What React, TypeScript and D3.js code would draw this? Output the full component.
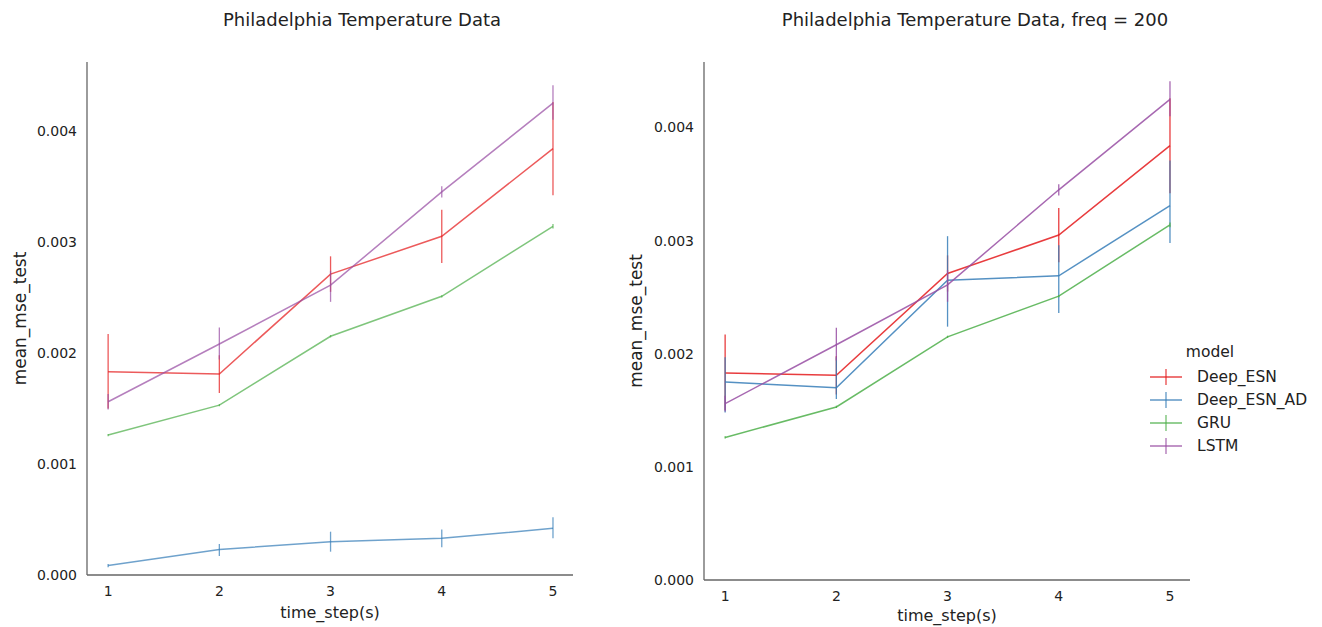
import React from 'react';
import * as d3 from 'd3';

// values in units of 1e-3
const timeSteps = [1, 2, 3, 4, 5];
const models = ['Deep_ESN', 'Deep_ESN_AD', 'GRU', 'LSTM'];
const modelColors = ['#e41a1c', '#377eb8', '#4daf4a', '#984ea3'];

const deepEsnMean = [1.83, 1.81, 2.71, 3.05, 3.84];
const deepEsnLow = [1.5, 1.64, 2.55, 2.81, 3.42];
const deepEsnHigh = [2.17, 1.98, 2.87, 3.29, 4.26];

const gruMean = [1.26, 1.53, 2.15, 2.51, 3.14];
const gruLow = [1.25, 1.52, 2.14, 2.5, 3.12];
const gruHigh = [1.27, 1.54, 2.16, 2.52, 3.16];

const lstmMean = [1.56, 2.08, 2.61, 3.45, 4.25];
const lstmLow = [1.49, 1.94, 2.46, 3.4, 4.1];
const lstmHigh = [1.63, 2.23, 2.74, 3.5, 4.41];

// Deep_ESN_AD, first panel
const esnAdMeanA = [0.085, 0.23, 0.3, 0.33, 0.42];
const esnAdLowA = [0.07, 0.17, 0.21, 0.25, 0.33];
const esnAdHighA = [0.1, 0.28, 0.39, 0.41, 0.52];

// Deep_ESN_AD, freq = 200
const esnAdMeanB = [1.75, 1.7, 2.65, 2.69, 3.31];
const esnAdLowB = [1.48, 1.6, 2.24, 2.36, 2.98];
const esnAdHighB = [1.97, 1.97, 3.04, 2.96, 3.71];

const yTicks = [0, 0.001, 0.002, 0.003, 0.004];

type Series = { name: string; color: string; mean: number[]; low: number[]; high: number[] };

const seriesLeft: Series[] = [
  { name: models[0], color: modelColors[0], mean: deepEsnMean, low: deepEsnLow, high: deepEsnHigh },
  { name: models[1], color: modelColors[1], mean: esnAdMeanA, low: esnAdLowA, high: esnAdHighA },
  { name: models[2], color: modelColors[2], mean: gruMean, low: gruLow, high: gruHigh },
  { name: models[3], color: modelColors[3], mean: lstmMean, low: lstmLow, high: lstmHigh },
];
const seriesRight: Series[] = [
  { name: models[0], color: modelColors[0], mean: deepEsnMean, low: deepEsnLow, high: deepEsnHigh },
  { name: models[1], color: modelColors[1], mean: esnAdMeanB, low: esnAdLowB, high: esnAdHighB },
  { name: models[2], color: modelColors[2], mean: gruMean, low: gruLow, high: gruHigh },
  { name: models[3], color: modelColors[3], mean: lstmMean, low: lstmLow, high: lstmHigh },
];

const font = 'DejaVu Sans, sans-serif';

function Panel({ series, title, titleX, left, right, top, bottom, yTop, opacity, ylabelX, xlabelY }: any) {
  // axis lines run from left..right, top..bottom
  const x = d3.scaleLinear().domain([0.81, 5.18]).range([left, right]);
  const y = d3.scaleLinear().domain([0, yTop]).range([bottom, top]);
  const line = d3
    .line<number>()
    .x((_, i) => x(timeSteps[i]))
    .y((d) => y(d * 0.001));
  const cx = (left + right) / 2;
  return (
    <g>
      <text x={titleX} y={26} textAnchor="middle" fontSize={18} fontFamily={font} fill="#222">
        {title}
      </text>
      <line x1={left} x2={left} y1={top} y2={bottom} stroke="#666" strokeWidth={1.3} />
      <line x1={left} x2={right} y1={bottom} y2={bottom} stroke="#666" strokeWidth={1.3} />
      {yTicks.map((t) => (
        <text key={t} x={left - 10} y={y(t)} dy="0.35em" textAnchor="end" fontSize={14} fontFamily={font} fill="#222">
          {d3.format('.3f')(t)}
        </text>
      ))}
      {timeSteps.map((t) => (
        <text key={t} x={x(t)} y={bottom + 21} textAnchor="middle" fontSize={14} fontFamily={font} fill="#222">
          {t}
        </text>
      ))}
      <text x={cx} y={xlabelY} textAnchor="middle" fontSize={16} fontFamily={font} fill="#222">
        time_step(s)
      </text>
      <text
        transform={`translate(${ylabelX},${(top + bottom) / 2}) rotate(-90)`}
        textAnchor="middle"
        dy="0.35em"
        fontSize={17}
        fontFamily={font}
        fill="#222"
      >
        mean_mse_test
      </text>
      {series.map((s: Series) => (
        <g key={s.name} stroke={s.color} strokeOpacity={opacity} fill="none">
          <path d={line(s.mean) || ''} strokeWidth={1.5} />
          {s.mean.map((_, i) => (
            <line
              key={i}
              x1={x(timeSteps[i])}
              x2={x(timeSteps[i])}
              y1={y(s.low[i] * 0.001)}
              y2={y(s.high[i] * 0.001)}
              strokeWidth={1.3}
            />
          ))}
        </g>
      ))}
    </g>
  );
}

export default function App() {
  return (
    <div style={{ position: 'absolute', left: 0, top: 0 }}>
      <svg width={1322} height={627} style={{ display: 'block', background: '#fff' }}>
        <Panel
          series={seriesLeft}
          title="Philadelphia Temperature Data"
          titleX={362}
          left={87}
          right={573}
          top={62}
          bottom={575}
          yTop={0.00462}
          opacity={0.72}
          ylabelX={20}
          xlabelY={618}
        />
        <Panel
          series={seriesRight}
          title="Philadelphia Temperature Data, freq = 200"
          titleX={975}
          left={704}
          right={1190}
          top={62}
          bottom={580}
          yTop={0.00458}
          opacity={0.85}
          ylabelX={636}
          xlabelY={621}
        />
        <g fontFamily={font}>
          <text x={1210} y={357} textAnchor="middle" fontSize={15.5} fill="#222">
            model
          </text>
          {models.map((m, i) => {
            const ly = 377 + i * 23;
            return (
              <g key={m}>
                <line x1={1150} x2={1182} y1={ly} y2={ly} stroke={modelColors[i]} strokeOpacity={0.8} strokeWidth={1.5} />
                <line x1={1166} x2={1166} y1={ly - 8} y2={ly + 8} stroke={modelColors[i]} strokeOpacity={0.8} strokeWidth={1.3} />
                <text x={1197} y={ly} dy="0.35em" fontSize={15.5} fill="#222">
                  {m}
                </text>
              </g>
            );
          })}
        </g>
      </svg>
    </div>
  );
}
